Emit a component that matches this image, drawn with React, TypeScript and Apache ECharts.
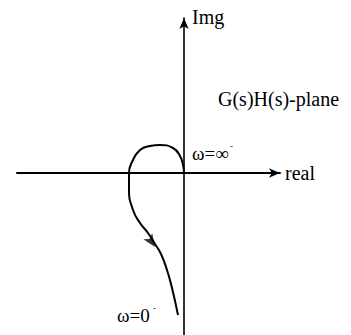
import React, { useEffect, useRef } from "react";
import * as echarts from "echarts";

// Nyquist-like locus (real, imaginary) in plot units
const curveReal = [0, -1, -4, -11, -24, -34, -44, -52, -55, -55, -51, -44, -36, -29, -23, -17, -12, -6];
const curveImag = [0, 8, 17, 25, 28, 27, 23, 11, 0, -17, -37, -50, -60, -71, -81, -97, -115, -142];
// direction arrow on the locus
const arrowPoint = [-29, -74];

const xRange = [-167, 96];
const yRange = [-162, 155];

const xAxisName = "real";
const yAxisName = "Img";
const planeLabel = "G(s)H(s)-plane";
const omegaInf = "ω=∞";
const omegaZero = "ω=0";

const FONT = "'Liberation Serif', 'Times New Roman', serif";

export default function App() {
  const ref = useRef<HTMLDivElement>(null);
  useEffect(() => {
    if (!ref.current) return;
    const chart = echarts.init(ref.current, undefined, { renderer: "svg" });
    const curve = curveReal.map((x, i) => [x, curveImag[i]]);
    chart.setOption({
      animation: false,
      backgroundColor: "#fff",
      grid: { left: 17, right: 71, top: 18, bottom: 0, containLabel: false },
      xAxis: {
        type: "value",
        min: xRange[0],
        max: xRange[1],
        axisLine: {
          onZero: true,
          symbol: ["none", "arrow"],
          symbolSize: [7, 11],
          lineStyle: { color: "#000", width: 2 },
        },
        axisTick: { show: false },
        axisLabel: { show: false },
        splitLine: { show: false },
        name: xAxisName,
        nameLocation: "end",
        nameGap: 5,
        nameTextStyle: { fontFamily: FONT, fontSize: 20, color: "#000" },
      },
      yAxis: {
        type: "value",
        min: yRange[0],
        max: yRange[1],
        axisLine: {
          onZero: true,
          symbol: ["none", "arrow"],
          symbolSize: [7, 11],
          lineStyle: { color: "#000", width: 1.6 },
        },
        axisTick: { show: false },
        axisLabel: { show: false },
        splitLine: { show: false },
      },
      series: [
        {
          type: "line",
          data: curve,
          smooth: 0.5,
          showSymbol: false,
          lineStyle: { color: "#000", width: 2 },
          z: 3,
        },
        {
          type: "scatter",
          data: [arrowPoint],
          symbol: "arrow",
          symbolSize: [8, 13],
          symbolRotate: -146,
          itemStyle: { color: "#000" },
          z: 4,
        },
      ],
      graphic: [
        {
          type: "text",
          left: 192,
          top: 7,
          style: { text: yAxisName, font: `20px ${FONT}`, fill: "#000" },
        },
        {
          type: "text",
          left: 218,
          top: 89,
          style: { text: planeLabel, font: `20px ${FONT}`, fill: "#000" },
        },
        {
          type: "text",
          left: 192,
          top: 144,
          style: { text: omegaInf, font: `19px ${FONT}`, fill: "#000" },
        },
        {
          type: "text",
          left: 230,
          top: 141,
          style: { text: "-", font: `9px ${FONT}`, fill: "#000" },
        },
        {
          type: "text",
          left: 117,
          top: 306,
          style: { text: omegaZero, font: `19px ${FONT}`, fill: "#000" },
        },
        {
          type: "text",
          left: 153,
          top: 303,
          style: { text: "-", font: `9px ${FONT}`, fill: "#000" },
        },
      ],
    });
    return () => chart.dispose();
  }, []);
  return (
    <div
      ref={ref}
      style={{ position: "fixed", left: 0, top: 0, width: 351, height: 335, background: "#fff" }}
    />
  );
}
